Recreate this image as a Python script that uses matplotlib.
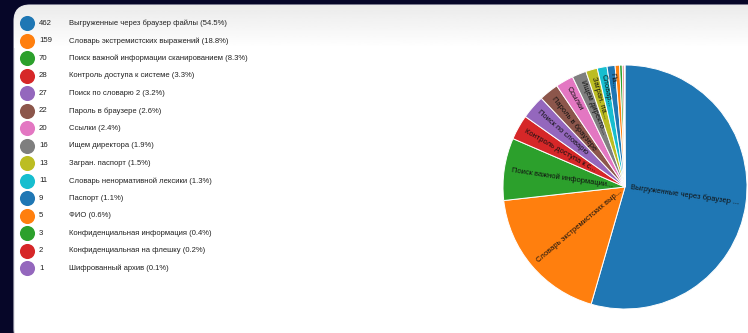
import numpy as np
import matplotlib
matplotlib.use('Agg')
import matplotlib.pyplot as plt
from matplotlib.patches import FancyBboxPatch

plt.rcParams['font.family'] = ['Liberation Sans', 'DejaVu Sans']

# Data
counts = [462, 159, 70, 28, 27, 22, 20, 16, 13, 11, 9, 5, 3, 2, 1]
names = [
    'Выгруженные через браузер файлы',
    'Словарь экстремистских выражений',
    'Поиск важной информации сканированием',
    'Контроль доступа к системе',
    'Поиск по словарю 2',
    'Пароль в браузере',
    'Ссылки',
    'Ищем директора',
    'Загран. паспорт',
    'Словарь ненормативной лексики',
    'Паспорт',
    'ФИО',
    'Конфиденциальная информация',
    'Конфиденциальная на флешку',
    'Шифрованный архив',
]
percents = ['54.5', '18.8', '8.3', '3.3', '3.2', '2.6', '2.4', '1.9', '1.5', '1.3',
            '1.1', '0.6', '0.4', '0.2', '0.1']
# truncated slice captions as they appear inside the pie
slice_text = [
    'Выгруженные через браузер ...',
    'Словарь экстремистских выр...',
    'Поиск важной информации...',
    'Контроль доступа к с...',
    'Поиск по словарю',
    'Пароль в браузере',
    'Ссылки',
    'Ищем директо...',
    'Загран. па...',
    'Словар...',
    'Па...',
    '', '', '', '',
]

palette = ['#1f77b4', '#ff7f0e', '#2ca02c', '#d62728', '#9467bd', '#8c564b',
           '#e377c2', '#7f7f7f', '#bcbd22', '#17becf']
colors = [palette[i % 10] for i in range(len(counts))]

W, H = 748, 333
fig = plt.figure(figsize=(W / 100, H / 100), dpi=100)
fig.patch.set_facecolor('#060628')

# background axes in pixel coordinates
bg = fig.add_axes([0, 0, 1, 1])
bg.set_xlim(0, W)
bg.set_ylim(H, 0)
bg.axis('off')

panel = FancyBboxPatch((14, 5), 760, 340, boxstyle='round,pad=0,rounding_size=16',
                       facecolor='white', edgecolor='#d8d8e0', linewidth=0.8, zorder=1)
bg.add_patch(panel)
# soft grey fade at the top of the panel
grad = np.linspace(0.92, 1.0, 60).reshape(-1, 1)
im = bg.imshow(grad, cmap='gray', vmin=0, vmax=1, extent=(14, 774, 48, 5),
               aspect='auto', zorder=1.5)
im.set_clip_path(panel)

# legend
row0, step = 23.3, 17.5
for i, (c, n, p, col) in enumerate(zip(counts, names, percents, colors)):
    y = row0 + i * step
    bg.scatter([27], [y], s=118, color=col, zorder=3, linewidths=0)
    bg.text(39, y, str(c), fontsize=5.6, color='#222222', va='center', zorder=3)
    bg.text(69, y, f'{n} ({p}%)', fontsize=5.5, color='#222222', va='center', zorder=3)

# pie
cx, cy, r = 625, 187, 122
ax = fig.add_axes([(cx - r) / W, (H - cy - r) / H, 2 * r / W, 2 * r / H])
ax.set_zorder(4)
wedges, _ = ax.pie(counts, colors=colors, startangle=90, counterclock=False,
                   wedgeprops=dict(edgecolor='white', linewidth=0.7))
ax.set_xlim(-1, 1)
ax.set_ylim(-1, 1)
ax.set_aspect('equal')
ax.axis('off')

for w, txt in zip(wedges, slice_text):
    if not txt:
        continue
    mid = np.deg2rad((w.theta1 + w.theta2) / 2)
    x, y = 0.94 * np.cos(mid), 0.94 * np.sin(mid)
    ang = np.rad2deg(mid) % 360
    if np.cos(mid) >= 0:
        rot = ang if ang <= 180 else ang - 360
        ha = 'right'
    else:
        rot = ang - 180
        ha = 'left'
    ax.text(x, y, txt, rotation=rot, rotation_mode='anchor', ha=ha, va='center',
            fontsize=5.4, color='#111111')

fig.savefig('out.png', dpi=100, facecolor=fig.get_facecolor())
